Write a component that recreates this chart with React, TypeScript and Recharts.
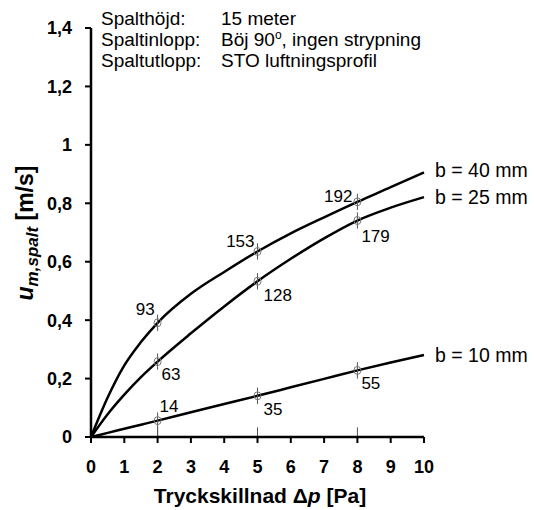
import React from "react";
import {
  ComposedChart,
  Line,
  Scatter,
  ErrorBar,
  XAxis,
  YAxis,
  ReferenceLine,
} from "recharts";

// pressure difference [Pa] where the curves were read
const xs = [0, 0.5, 1, 1.5, 2, 3, 4, 5, 6, 7, 8, 9, 10];
const b40 = [0, 0.135, 0.245, 0.325, 0.391, 0.49, 0.565, 0.635, 0.697, 0.752, 0.805, 0.855, 0.906];
const b25 = [0, 0.078, 0.145, 0.205, 0.258, 0.355, 0.447, 0.533, 0.61, 0.68, 0.741, 0.785, 0.821];
const b10 = [0, 0.014, 0.028, 0.042, 0.056, 0.085, 0.113, 0.141, 0.17, 0.199, 0.228, 0.255, 0.281];

// measured points
const markX = [2, 5, 8];
const mark40 = [0.391, 0.635, 0.805];
const mark25 = [0.258, 0.533, 0.741];
const mark10 = [0.056, 0.141, 0.228];
const labels40 = ["93", "153", "192"];
const labels25 = ["63", "128", "179"];
const labels10 = ["14", "35", "55"];
const err40 = [[0.028, 0.028], [0.028, 0.028], [0.028, 0.028]];
const err25 = [[0.028, 0.028], [0.028, 0.028], [0.028, 0.028]];
const err10 = [[0.056, 0.028], [0.028, 0.028], [0.028, 0.028]];

const seriesNames = ["b = 40 mm", "b = 25 mm", "b = 10 mm"];
const xTicks = [0, 1, 2, 3, 4, 5, 6, 7, 8, 9, 10];
const yTicks = [0, 0.2, 0.4, 0.6, 0.8, 1, 1.2, 1.4];

const FONT = "'Liberation Sans', Arial, sans-serif";

const curveData = xs.map((x, i) => ({ x, b40: b40[i], b25: b25[i], b10: b10[i] }));
const points = (ys: number[], labels: string[], errs: number[][]) =>
  markX.map((x, i) => ({ x, y: ys[i], label: labels[i], err: errs[i] }));

// label placement per point: dx, dy, anchor
const place40: [number, number, string][] = [[-3, -8, "end"], [-3, -4, "end"], [-5, 0, "end"]];
const place25: [number, number, string][] = [[4, 18, "start"], [6, 20, "start"], [4, 21, "start"]];
const place10: [number, number, string][] = [[2, -9, "start"], [6, 19, "start"], [4, 19, "start"]];

const markerShape = (place: [number, number, string][]) => (props: any) => {
  const { cx, cy, payload } = props;
  const i = markX.indexOf(payload.x);
  const [dx, dy, anchor] = place[i];
  return (
    <g>
      <ellipse cx={cx} cy={cy} rx={3.5} ry={4} fill="none" stroke="#777" strokeWidth={1} />
      <text x={cx + dx} y={cy + dy} textAnchor={anchor as any} fontSize={17} fontFamily={FONT} fill="#000">
        {payload.label}
      </text>
    </g>
  );
};

const endLabel = (name: string, dy: number) => (props: any) => {
  if (props.index !== xs.length - 1) return <g key={props.index} />;
  return (
    <text key="end" x={props.x + 11} y={props.y + dy} fontSize={19.5} fontFamily={FONT} fill="#000">
      {name}
    </text>
  );
};

export default function App() {
  return (
    <div style={{ position: "absolute", left: 0, top: 0, width: 534, height: 510, background: "#fff" }}>
      <ComposedChart
        width={534}
        height={510}
        data={curveData}
        margin={{ top: 28, right: 110, bottom: 0, left: 0 }}
      >
        <XAxis
          dataKey="x"
          type="number"
          domain={[0, 10]}
          ticks={xTicks}
          interval={0}
          height={73}
          tickSize={6}
          tickMargin={17}
          axisLine={{ stroke: "#000", strokeWidth: 2.5 }}
          tickLine={{ stroke: "#000", strokeWidth: 2 }}
          tick={{ fill: "#000", fontSize: 18, fontWeight: "bold", fontFamily: FONT }}
        />
        <YAxis
          type="number"
          domain={[0, 1.4]}
          ticks={yTicks}
          interval={0}
          width={91}
          tickSize={6}
          tickMargin={13}
          tickFormatter={(v: number) => String(v).replace(".", ",")}
          axisLine={{ stroke: "#000", strokeWidth: 2.5 }}
          tickLine={{ stroke: "#000", strokeWidth: 2 }}
          tick={{ fill: "#000", fontSize: 18, fontWeight: "bold", fontFamily: FONT }}
        />
        {markX.map((x) => (
          <ReferenceLine
            key={x}
            segment={[{ x, y: 0 }, { x, y: 0.033 }]}
            stroke="#555"
            strokeWidth={1}
          />
        ))}
        <Line
          dataKey="b40"
          type="monotone"
          stroke="#000"
          strokeWidth={2.5}
          dot={false}
          isAnimationActive={false}
          label={endLabel(seriesNames[0], 5)}
        />
        <Line
          dataKey="b25"
          type="monotone"
          stroke="#000"
          strokeWidth={2.5}
          dot={false}
          isAnimationActive={false}
          label={endLabel(seriesNames[1], 7)}
        />
        <Line
          dataKey="b10"
          type="monotone"
          stroke="#000"
          strokeWidth={2.5}
          dot={false}
          isAnimationActive={false}
          label={endLabel(seriesNames[2], 7)}
        />
        <Scatter data={points(mark40, labels40, err40)} dataKey="y" shape={markerShape(place40)} isAnimationActive={false}>
          <ErrorBar dataKey="err" direction="y" width={0} stroke="#555" strokeWidth={1} isAnimationActive={false} />
        </Scatter>
        <Scatter data={points(mark25, labels25, err25)} dataKey="y" shape={markerShape(place25)} isAnimationActive={false}>
          <ErrorBar dataKey="err" direction="y" width={0} stroke="#555" strokeWidth={1} isAnimationActive={false} />
        </Scatter>
        <Scatter data={points(mark10, labels10, err10)} dataKey="y" shape={markerShape(place10)} isAnimationActive={false}>
          <ErrorBar dataKey="err" direction="y" width={0} stroke="#555" strokeWidth={1} isAnimationActive={false} />
        </Scatter>
      </ComposedChart>
      <svg
        width={534}
        height={510}
        style={{ position: "absolute", left: 0, top: 0, pointerEvents: "none" }}
        fontFamily={FONT}
      >
        <g fontSize={19} fill="#000">
          <text x={101} y={25}>Spalthöjd:</text>
          <text x={221} y={25}>15 meter</text>
          <text x={101} y={46}>Spaltinlopp:</text>
          <text x={221} y={46}>
            Böj 90<tspan fontSize={12} dy={-7}>o</tspan>
            <tspan dy={7}>, ingen strypning</tspan>
          </text>
          <text x={101} y={67}>Spaltutlopp:</text>
          <text x={221} y={67}>STO luftningsprofil</text>
        </g>
        <text x={260} y={503} textAnchor="middle" fontSize={21} fontWeight="bold" fill="#000">
          Tryckskillnad Δ<tspan fontStyle="italic">p</tspan> [Pa]
        </text>
        <text
          x={33}
          y={233}
          textAnchor="middle"
          transform="rotate(-90 33 233)"
          fontSize={23}
          fontWeight="bold"
          fill="#000"
        >
          <tspan fontStyle="italic">u</tspan>
          <tspan fontStyle="italic" fontSize={17} dy={5}>m,spalt</tspan>
          <tspan dy={-5}> [m/s]</tspan>
        </text>
      </svg>
    </div>
  );
}
